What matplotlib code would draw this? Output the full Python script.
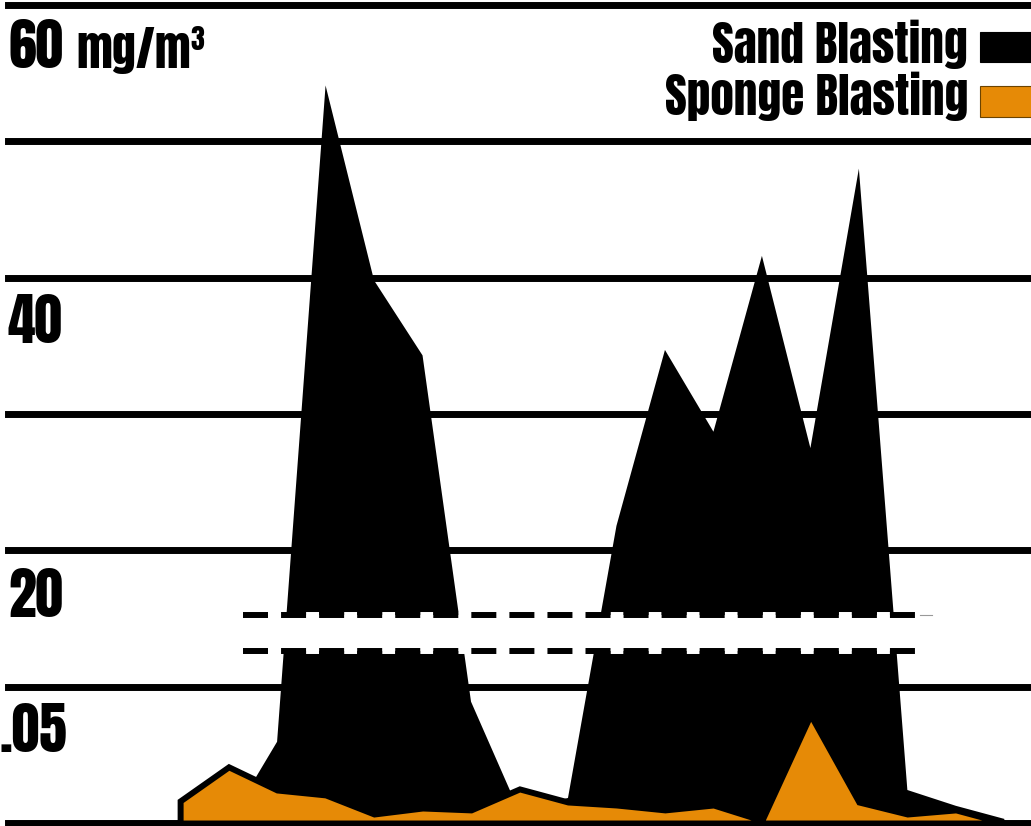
import numpy as np
import matplotlib
matplotlib.use("Agg")
import matplotlib.pyplot as plt
from matplotlib.patches import Rectangle

plt.rcParams['lines.scale_dashes'] = False

# ---- data ----
x_idx = list(range(18))
sand = [0, 0, 0.0298, 54.1, 39.8, 34.3, 0.0445, 0.004, 0.0092,
        21.8, 34.7, 28.7, 41.6, 27.5, 48.0, 0.0121, 0.0063, 0.0015]
sponge = [0.0081, 0.0206, 0.0121, 0.0103, 0.0033, 0.0055, 0.0048, 0.0125,
          0.0077, 0.0066, 0.0048, 0.0066, 0.001, 0.0397, 0.0077, 0.0033,
          0.0048, 0.0]
grid_values = [0, 0.05, 20, 30, 40, 50, 60]
tick_values = [60, 40, 20, 0.05]
tick_texts = ['60', '40', '20', '.05']
unit_text = 'mg/m³'
legend_labels = ['Sand Blasting', 'Sponge Blasting']
colors = ['#000000', '#E68A06']

# broken axis: 0..0.05 in lowest band, 20..60 on top, compressed gap between
knots_v = np.array([0, 0.05, 20, 60])
knots_p = np.array([0, 1, 2, 6])


def fwd(v):
    v = np.asarray(v, dtype=float)
    out = np.interp(v, knots_v, knots_p)
    out = np.where(v < 0, v / 0.05, out)
    out = np.where(v > 60, 6 + (v - 60) / 10, out)
    return out


def inv(p):
    p = np.asarray(p, dtype=float)
    out = np.interp(p, knots_p, knots_v)
    out = np.where(p < 0, p * 0.05, out)
    out = np.where(p > 6, 60 + (p - 6) * 10, out)
    return out


W, H = 1031, 826
fig = plt.figure(figsize=(W / 100, H / 100), dpi=100)
ax = fig.add_axes([8 / W, 3 / H, 1 - 8 / W, (823 - 5) / H])
ax.set_yscale('function', functions=(fwd, inv))
ax.set_ylim(0, 60)
ax.set_xlim(-3.55, 17.55)
ax.axis('off')

FONT = ['Anton', 'Roboto Condensed', 'DejaVu Sans']

for v in grid_values:
    ax.axhline(v, color='black', lw=5, zorder=1, clip_on=False)

ax.fill_between(x_idx, 0, sand, facecolor=colors[0], edgecolor='none',
                lw=0, zorder=2)
ax.fill_between(x_idx, 0, sponge, facecolor=colors[1], edgecolor='black',
                lw=4.3, zorder=3, joinstyle='miter')

# axis break band
xt = ax.get_xaxis_transform()
bx0, bx1 = 1.30, 15.26
y_top, y_bot = (823 - 615) / 818, (823 - 651) / 818
ax.add_patch(Rectangle((bx0, y_bot), bx1 - bx0, y_top - y_bot,
                       transform=xt, facecolor='white', edgecolor='none',
                       zorder=4))
for yy in (y_top, y_bot):
    ax.plot([bx0, bx1], [yy, yy], transform=xt, color='black', lw=4.3,
            linestyle=(0, (18, 9.4)), gapcolor='white',
            dash_capstyle='butt', zorder=5, clip_on=False)
ax.plot([bx1, 15.5], [y_top, y_top], transform=xt, color='#999999', lw=0.8,
        zorder=5)

# y labels (placed below their gridline)
label_pos = {60: (8, 68, 'left'), 40: (8, 343, 'left'),
             20: (8, 617, 'left'), 0.05: (67, 752, 'right')}
for v, t in zip(tick_values, tick_texts):
    px, py, ha = label_pos[v]
    fig.text(px / W, 1 - py / H, t, ha=ha, va='baseline',
             fontsize=40, family=FONT, color='black')
fig.text(76 / W, 1 - 68 / H, unit_text, ha='left', va='baseline',
         fontsize=34, family=FONT, color='black')

# legend
leg_base = [63, 115]
sw_y = [(32, 62), (86, 117)]
for lab, col, by, (s0, s1) in zip(legend_labels, colors, leg_base, sw_y):
    fig.text(968 / W, 1 - by / H, lab, ha='right', va='baseline',
             fontsize=34, family=FONT, color='black')
    fig.patches.append(Rectangle((980 / W, 1 - s1 / H), 60 / W,
                                 (s1 - s0) / H, transform=fig.transFigure,
                                 facecolor=col,
                                 edgecolor='black' if col == '#000000' else '#6b4300',
                                 lw=0.8))

fig.savefig('out.png', dpi=100, facecolor='white')
